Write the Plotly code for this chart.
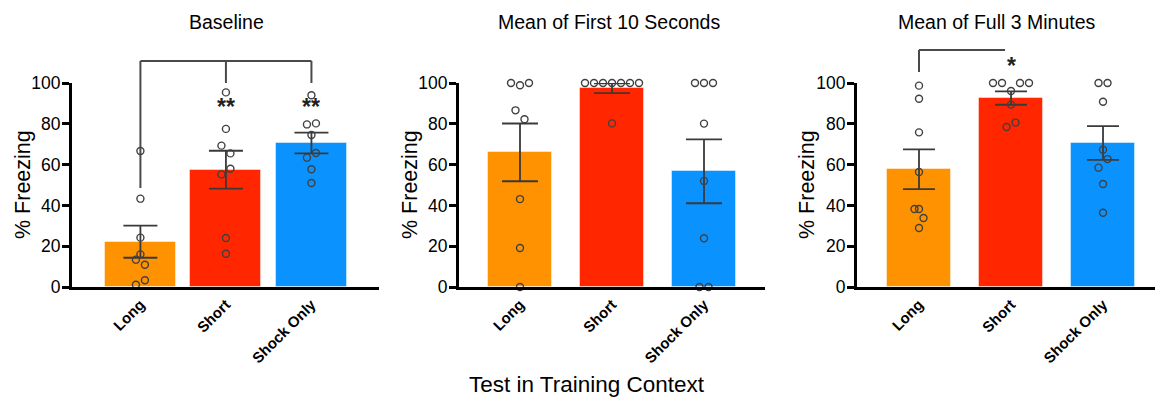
import plotly.graph_objects as go

W, H = 1155, 397

categories = ["Long", "Short", "Shock Only"]
panel_titles = ["Baseline", "Mean of First 10 Seconds", "Mean of Full 3 Minutes"]
bar_colors = ["#FF9200", "#FF2600", "#0A93FF"]
y_ticks = [0, 20, 40, 60, 80, 100]
y_title = "% Freezing"
x_title = "Test in Training Context"

# ---- Baseline ----
base_means = [22.2, 57.5, 70.6]
base_sem = [7.85, 9.3, 5.05]
base_long = [66.7, 43.3, 24.2, 16.0, 13.4, 10.9, 3.3, 1.1]
base_short = [95.4, 77.5, 69.3, 65.5, 58.0, 55.2, 24.0, 16.3]
base_shock = [94.0, 79.7, 80.2, 74.5, 63.4, 65.7, 57.7, 51.0]

# ---- Mean of first 10 seconds ----
first_means = [66.0, 97.4, 56.7]
first_sem = [14.15, 2.4, 15.65]
first_long = [100, 98.9, 100, 86.6, 82.2, 43.1, 19.1, 0]
first_short = [100, 100, 100, 100, 100, 100, 100, 80.2]
first_shock = [100, 100, 100, 80.1, 52.0, 23.9, 0, 0]

# ---- Mean of full 3 minutes ----
full_means = [57.7, 92.6, 70.6]
full_sem = [9.75, 3.25, 8.25]
full_long = [98.7, 92.3, 75.8, 56.4, 38.2, 38.2, 33.8, 28.9]
full_short = [100, 100, 100, 100, 96.1, 89.4, 78.4, 80.6]
full_shock = [100, 100, 90.8, 67.3, 62.7, 58.5, 50.5, 36.4]

# jitter slots (layout only; one slot = half a marker spacing)
base_slots = [[0, 0, 0, 0, -1, 1, 1, -1], [0, 0, -1, 1, 1, -1, 0, 0], [0, -1, 1, 0, -1, 1, 0, 0]]
first_slots = [[-2, 0, 2, -1, 1, 0, 0, 0], [-6, -4, -2, 0, 2, 4, 6, 0], [-2, 0, 2, 0, 0, 0, -1, 1]]
full_slots = [[0, 0, 0, 0, -1, 0, 1, 0], [-4, -2, 2, 4, 0, 0, -1, 1], [-1, 1, 0, 0, 1, -1, 0, 0]]

panels = [
    (base_means, base_sem, [base_long, base_short, base_shock], base_slots),
    (first_means, first_sem, [first_long, first_short, first_shock], first_slots),
    (full_means, full_sem, [full_long, full_short, full_shock], full_slots),
]

# layout geometry (pixels)
panel_px = [(72, 379), (459, 765), (857, 1155)]
x_ranges = [[-0.80, 2.79], [-0.663, 2.663], [-0.674, 2.565]]
bar_widths = [0.83, 0.70, 0.70]
cap_widths = [17, 18, 16]
ytitle_px = [23, 410, 807]
title_px = [226, 609, 997]
y_bottom_px, y_top_px = 287, 83
slot_px = 4.5

ydom = [(H - y_bottom_px) / H, (H - y_top_px) / H]

fig = go.Figure()
FONT = "Liberation Sans, Arial, sans-serif"

for i, (means, sem, groups, slots) in enumerate(panels):
    xa = "x" if i == 0 else f"x{i+1}"
    ya = "y" if i == 0 else f"y{i+1}"
    r0, r1 = x_ranges[i]
    px0, px1 = panel_px[i]
    unit = (r1 - r0) / (px1 - px0)  # category units per px
    fig.add_trace(go.Bar(
        x=[0, 1, 2], y=means, width=bar_widths[i],
        marker=dict(color=bar_colors, line=dict(color="rgba(255,255,255,0.45)", width=1)),
        error_y=dict(type="data", array=sem, visible=True, color="#3a3a3a",
                     thickness=1.8, width=cap_widths[i]),
        xaxis=xa, yaxis=ya, showlegend=False, hoverinfo="skip",
    ))
    for g, (vals, sl) in enumerate(zip(groups, slots)):
        fig.add_trace(go.Scatter(
            x=[g + s * slot_px * unit for s in sl], y=vals, mode="markers",
            marker=dict(symbol="circle-open", size=7, color="#404040", line=dict(width=1.4)),
            cliponaxis=False, xaxis=xa, yaxis=ya, showlegend=False, hoverinfo="skip",
        ))
    xd = [px0 / W, px1 / W]
    axkey = "xaxis" if i == 0 else f"xaxis{i+1}"
    aykey = "yaxis" if i == 0 else f"yaxis{i+1}"
    fig.update_layout(**{
        axkey: dict(domain=xd, range=[r0, r1], anchor=ya, tickmode="array", automargin=False,
                    tickvals=[0, 1, 2], ticktext=[f"<b>{c}</b>" for c in categories],
                    tickangle=-45, ticks="", showline=True, linecolor="black", linewidth=3,
                    showgrid=False, zeroline=False,
                    tickfont=dict(family=FONT, size=15, color="black")),
        aykey: dict(domain=ydom, range=[0, 100], anchor=xa, tickvals=y_ticks, automargin=False,
                    ticks="outside", ticklen=7, tickwidth=2.5, tickcolor="black",
                    ticklabelstandoff=-2,
                    showline=True, linecolor="black", linewidth=3, showgrid=False,
                    zeroline=False, tickfont=dict(family=FONT, size=17.5, color="black")),
    })
    fig.add_annotation(text=panel_titles[i], xref="paper", yref="paper",
                       x=title_px[i] / W, y=(H - 22) / H,
                       showarrow=False, font=dict(family=FONT, size=19.5, color="black"),
                       xanchor="center", yanchor="middle")
    fig.add_annotation(text=y_title, xref="paper", yref="paper", textangle=-90,
                       x=ytitle_px[i] / W, y=(H - (y_top_px + y_bottom_px) / 2) / H,
                       showarrow=False, font=dict(family=FONT, size=21.5, color="black"),
                       xanchor="center", yanchor="middle")

# significance brackets (values in data units, converted to paper)
def to_paper(i, cat, val):
    r0, r1 = x_ranges[i]
    px0, px1 = panel_px[i]
    xp = px0 + (cat - r0) / (r1 - r0) * (px1 - px0)
    yp = y_bottom_px - val / 100 * (y_bottom_px - y_top_px)
    return xp / W, (H - yp) / H

bracket1_top = 110.8
bracket1_ends = [(0, 48.5), (1, 100), (2, 100)]
bracket3_top = 116.2
bracket3_ends = [(0, 105.4)]
bracket3_right = 0.935

line_style = dict(color="#4a4a4a", width=2)
x0p, yp = to_paper(0, 0, bracket1_top)
x1p, _ = to_paper(0, 2, bracket1_top)
fig.add_shape(type="line", xref="paper", yref="paper", x0=x0p, x1=x1p, y0=yp, y1=yp, line=line_style)
for c, v in bracket1_ends:
    xp, yb = to_paper(0, c, v)
    fig.add_shape(type="line", xref="paper", yref="paper", x0=xp, x1=xp, y0=yb, y1=yp, line=line_style)

x0p, yp = to_paper(2, 0, bracket3_top)
x1p, _ = to_paper(2, bracket3_right, bracket3_top)
fig.add_shape(type="line", xref="paper", yref="paper", x0=x0p, x1=x1p, y0=yp, y1=yp, line=line_style)
for c, v in bracket3_ends:
    xp, yb = to_paper(2, c, v)
    fig.add_shape(type="line", xref="paper", yref="paper", x0=xp, x1=xp, y0=yb, y1=yp, line=line_style)

stars = [(0, 1, 88.0, "**"), (0, 2, 88.0, "**"), (2, 1, 108.5, "*")]
for i, c, v, s in stars:
    xp, ypp = to_paper(i, c, v)
    fig.add_annotation(text=f"<b>{s}</b>", xref="paper", yref="paper", x=xp, y=ypp,
                       showarrow=False, font=dict(family=FONT, size=23, color="#222"),
                       xanchor="center", yanchor="middle")

fig.add_annotation(text=x_title, xref="paper", yref="paper",
                   x=587 / W, y=(H - 384) / H, showarrow=False,
                   font=dict(family=FONT, size=22.5, color="black"),
                   xanchor="center", yanchor="middle")

fig.update_layout(width=W, height=H, margin=dict(l=0, r=0, t=0, b=0),
                  paper_bgcolor="white", plot_bgcolor="white", bargap=0)

fig.write_html("out.html")
